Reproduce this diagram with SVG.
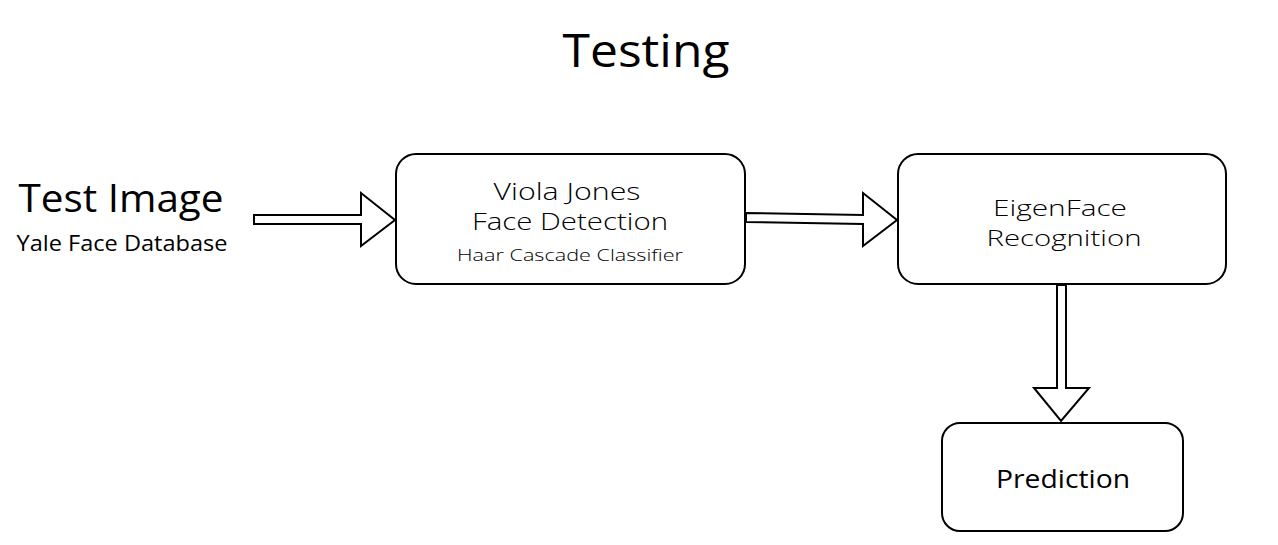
<svg xmlns="http://www.w3.org/2000/svg" width="1278" height="545" viewBox="0 0 1278 545">
<style>
text{font-family:"Open Sans","DejaVu Sans",sans-serif;fill:#000;text-anchor:middle}
.box{fill:#fff;stroke:#000;stroke-width:2}
.arr{fill:#fff;stroke:#000;stroke-width:2;stroke-linejoin:miter}
.lt{font-weight:300}
.md{font-weight:500}
</style>
<rect width="1278" height="545" fill="#fff"/>
<text x="646" y="67" font-size="45" class="md" textLength="167" lengthAdjust="spacingAndGlyphs">Testing</text>
<g id="test-image">
<text x="121" y="212" font-size="38" class="md" textLength="205" lengthAdjust="spacingAndGlyphs">Test Image</text>
<text x="122" y="251" font-size="21" class="md" textLength="211" lengthAdjust="spacingAndGlyphs">Yale Face Database</text>
</g>
<g id="connectors">
<path class="arr" d="M254,215 L361,215 L361,193 L395,220 L361,246 L361,224 L254,224 Z"/>
<path class="arr" d="M746,213 L863,215 L863,193 L897,220 L863,246 L863,224 L746,222 Z"/>
<path class="arr" d="M1057,285 L1066,285 L1066,388 L1089,388 L1061,421 L1034,388 L1057,388 Z"/>
</g>
<g id="viola-jones">
<rect class="box" x="396" y="154" width="349" height="130" rx="20"/>
<text x="567" y="200" font-size="23" class="lt" textLength="147" lengthAdjust="spacingAndGlyphs">Viola Jones</text>
<text x="570" y="230" font-size="23" class="lt" textLength="196" lengthAdjust="spacingAndGlyphs">Face Detection</text>
<text x="570" y="261" font-size="17" class="lt" textLength="226" lengthAdjust="spacingAndGlyphs">Haar Cascade Classifier</text>
</g>
<g id="eigenface">
<rect class="box" x="898" y="154" width="328" height="130" rx="20"/>
<text x="1060" y="216" font-size="22" class="lt" textLength="134" lengthAdjust="spacingAndGlyphs">EigenFace</text>
<text x="1064" y="246" font-size="22" class="lt" textLength="155" lengthAdjust="spacingAndGlyphs">Recognition</text>
</g>
<g id="prediction">
<rect class="box" x="942" y="423" width="241" height="108" rx="18"/>
<text x="1063" y="488" font-size="25" class="md" textLength="134" lengthAdjust="spacingAndGlyphs">Prediction</text>
</g>
</svg>
